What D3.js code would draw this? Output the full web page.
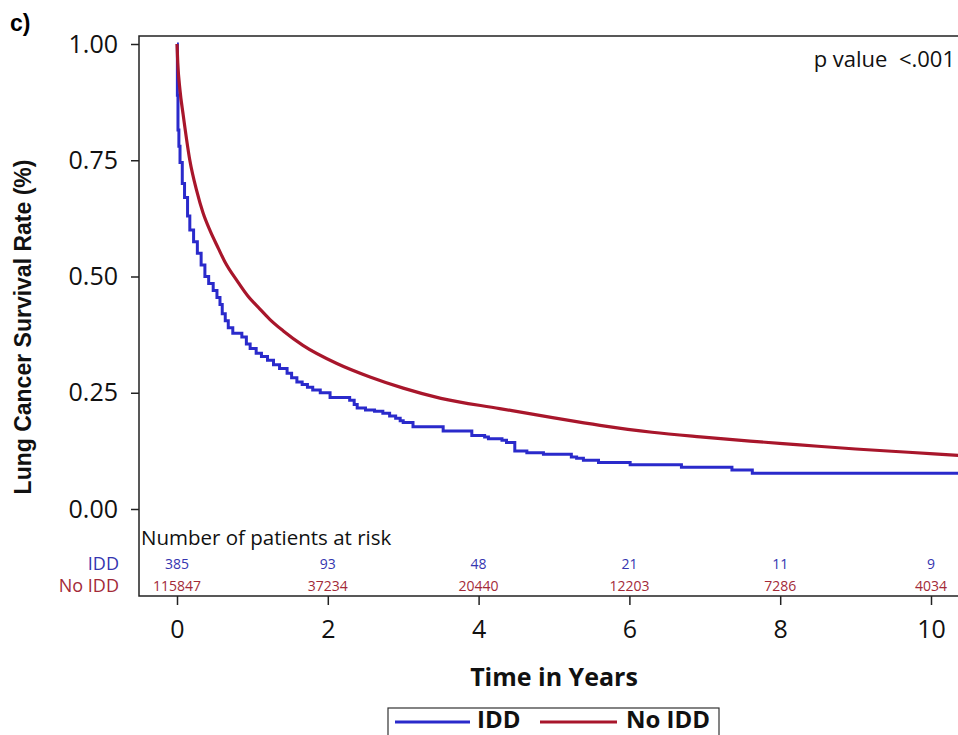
<!DOCTYPE html>
<html>
<head>
<meta charset="utf-8">
<script src="https://cdn.jsdelivr.net/npm/d3@7"></script>
<style>
  body { margin: 0; background: #fff; }
  svg { display: block; }
</style>
</head>
<body>
<div id="km-chart"></div>
<script>
// survival curve data (years, survival proportion)
var iddTime = [0, 0.005, 0.013, 0.025, 0.04, 0.07, 0.1, 0.14, 0.17, 0.22, 0.27, 0.32, 0.37, 0.42, 0.48, 0.53, 0.57, 0.6, 0.64, 0.68, 0.74,
  0.86, 0.92, 0.97, 1.05, 1.12, 1.2, 1.28, 1.36, 1.46, 1.52, 1.59, 1.66, 1.73, 1.8, 1.9, 2.03, 2.29, 2.35, 2.39, 2.5,
  2.62, 2.73, 2.82, 2.9, 2.96, 3.0, 3.13, 3.53, 3.91, 4.08, 4.13, 4.31, 4.37, 4.48, 4.64, 4.86, 5.23, 5.3, 5.39, 5.59,
  6.01, 6.69, 7.36, 7.63, 10.4];
var iddSurv = [1.0, 0.89, 0.815, 0.78, 0.745, 0.7, 0.67, 0.63, 0.6, 0.575, 0.55, 0.525, 0.5, 0.485, 0.47, 0.455, 0.44, 0.42, 0.405, 0.39, 0.378,
  0.37, 0.355, 0.345, 0.335, 0.328, 0.32, 0.31, 0.302, 0.292, 0.282, 0.273, 0.268, 0.262, 0.256, 0.25, 0.24, 0.234, 0.225, 0.217, 0.213,
  0.21, 0.206, 0.2, 0.195, 0.19, 0.186, 0.177, 0.168, 0.158, 0.155, 0.151, 0.148, 0.143, 0.125, 0.121, 0.118, 0.112, 0.109, 0.105, 0.1,
  0.095, 0.09, 0.084, 0.077, 0.077];

var noIddTime = [0, 0.01, 0.04, 0.08, 0.17, 0.26, 0.345, 0.44, 0.55, 0.64, 0.8, 0.94, 1.1, 1.23, 1.41, 1.67, 2.12, 2.56, 3.0, 3.5,
  4.28, 5.0, 5.61, 6.3, 6.94, 7.6, 8.26, 9.0, 9.7, 10.4];
var noIddSurv = [1.0, 0.96, 0.9, 0.85, 0.75, 0.685, 0.637, 0.598, 0.56, 0.53, 0.49, 0.458, 0.43, 0.408, 0.383, 0.352, 0.313, 0.284, 0.26, 0.238,
  0.216, 0.196, 0.18, 0.165, 0.155, 0.146, 0.138, 0.129, 0.122, 0.115];

// number at risk table
var riskTimes = [0, 2, 4, 6, 8, 10];
var riskIdd = [385, 93, 48, 21, 11, 9];
var riskNoIdd = [115847, 37234, 20440, 12203, 7286, 4034];

var xTicks = [0, 2, 4, 6, 8, 10];
var yTicks = [0, 0.25, 0.5, 0.75, 1.0];

var blue = "#2a2acb",
    red = "#a8162b";

var width = 958,
    height = 735;
var frame = { left: 139, top: 36, bottom: 596 };

var x = d3.scaleLinear().domain([0, 10]).range([177, 931]);
var y = d3.scaleLinear().domain([0, 1]).range([509, 44]);

var svg = d3.select("#km-chart")
  .append("svg")
    .attr("width", width)
    .attr("height", height)
    .style("font-family", "'Open Sans', 'Noto Sans', sans-serif");

drawFrame();
drawAxes();
drawCurves();
drawRiskTable();
drawLabels();
drawLegend();

//外框
function drawFrame() {
  svg.append("path")
    .attr("d", "M" + (width + 20) + "," + frame.top + "H" + frame.left + "V" + frame.bottom + "H" + (width + 20))
    .attr("fill", "none")
    .attr("stroke", "#222")
    .attr("stroke-width", 1.5);
}

function drawAxes() {
  var yAxis = d3.axisLeft(y)
    .tickValues(yTicks)
    .tickFormat(d3.format(".2f"))
    .tickSize(8)
    .tickPadding(13);
  var gy = svg.append("g")
    .attr("transform", "translate(" + frame.left + ",0)")
    .call(yAxis);
  gy.select(".domain").remove();
  gy.selectAll("line").attr("stroke", "#222").attr("stroke-width", 1.5);
  gy.selectAll("text")
    .attr("font-family", "'Open Sans', sans-serif")
    .attr("font-size", 25)
    .attr("fill", "#111");

  var xAxis = d3.axisBottom(x)
    .tickValues(xTicks)
    .tickFormat(d3.format("d"))
    .tickSize(9)
    .tickPadding(15);
  var gx = svg.append("g")
    .attr("transform", "translate(0," + frame.bottom + ")")
    .call(xAxis);
  gx.select(".domain").remove();
  gx.selectAll("line").attr("stroke", "#222").attr("stroke-width", 1.5);
  gx.selectAll("text")
    .attr("font-family", "'Open Sans', sans-serif")
    .attr("font-size", 25)
    .attr("fill", "#111");
}

//生存曲线
function drawCurves() {
  svg.append("clipPath").attr("id", "plot-clip")
    .append("rect")
      .attr("x", frame.left)
      .attr("y", frame.top)
      .attr("width", width - frame.left)
      .attr("height", frame.bottom - frame.top);

  var redLine = d3.line()
    .x(function(d) { return x(d[0]); })
    .y(function(d) { return y(d[1]); })
    .curve(d3.curveMonotoneX);
  var blueLine = d3.line()
    .x(function(d) { return x(d[0]); })
    .y(function(d) { return y(d[1]); })
    .curve(d3.curveStepAfter);

  var g = svg.append("g").attr("clip-path", "url(#plot-clip)");

  g.append("path")
    .datum(d3.zip(iddTime, iddSurv))
    .attr("d", blueLine)
    .attr("fill", "none")
    .attr("stroke", blue)
    .attr("stroke-width", 3);

  g.append("path")
    .datum(d3.zip(noIddTime, noIddSurv))
    .attr("d", redLine)
    .attr("fill", "none")
    .attr("stroke", red)
    .attr("stroke-width", 3.2);
}

function drawRiskTable() {
  svg.append("text")
    .attr("x", 141)
    .attr("y", 545)
    .attr("font-size", 20.5)
    .attr("fill", "#111")
    .text("Number of patients at risk");

  var rows = [
    { name: "IDD", values: riskIdd, color: "#3535b0", y: 569 },
    { name: "No IDD", values: riskNoIdd, color: "#a32a38", y: 591 }
  ];

  rows.forEach(function(row) {
    svg.append("text")
      .attr("x", 119)
      .attr("y", row.y + 1)
      .attr("text-anchor", "end")
      .attr("font-size", 18)
      .attr("fill", row.color)
      .text(row.name);

    svg.selectAll(null)
      .data(riskTimes)
      .enter()
        .append("text")
        .attr("x", function(d) { return x(d); })
        .attr("y", row.y)
        .attr("text-anchor", "middle")
        .attr("font-size", 14)
        .attr("fill", row.color)
        .text(function(d, i) { return row.values[i]; });
  });
}

function drawLabels() {
  svg.append("text")
    .attr("x", 10)
    .attr("y", 31)
    .attr("font-family", "'Liberation Sans', Arial, sans-serif")
    .attr("font-weight", "bold")
    .attr("font-size", 23)
    .text("c)");

  svg.append("text")
    .attr("transform", "translate(31,327) rotate(-90)")
    .attr("text-anchor", "middle")
    .attr("font-family", "'Liberation Sans', Arial, sans-serif")
    .attr("font-weight", "bold")
    .attr("font-size", 23)
    .attr("fill", "#111")
    .text("Lung Cancer Survival Rate (%)");

  svg.append("text")
    .attr("x", 554)
    .attr("y", 686)
    .attr("text-anchor", "middle")
    .attr("font-weight", "bold")
    .attr("font-size", 25)
    .attr("fill", "#111")
    .text("Time in Years");

  svg.append("text")
    .attr("x", 955)
    .attr("y", 67)
    .attr("text-anchor", "end")
    .attr("font-size", 22)
    .attr("fill", "#111")
    .attr("xml:space", "preserve")
    .style("white-space", "pre")
    .text("p value  <.001");
}

//图例
function drawLegend() {
  var g = svg.append("g");
  g.append("rect")
    .attr("x", 388)
    .attr("y", 708)
    .attr("width", 331)
    .attr("height", 60)
    .attr("fill", "#fff")
    .attr("stroke", "#333")
    .attr("stroke-width", 1.2);

  var items = [
    { name: "IDD", color: blue, x1: 395, x2: 470, tx: 477 },
    { name: "No IDD", color: red, x1: 540, x2: 617, tx: 626 }
  ];
  items.forEach(function(it) {
    g.append("line")
      .attr("x1", it.x1).attr("x2", it.x2)
      .attr("y1", 722).attr("y2", 722)
      .attr("stroke", it.color)
      .attr("stroke-width", 3);
    g.append("text")
      .attr("x", it.tx)
      .attr("y", 728)
      .attr("font-weight", "bold")
      .attr("font-size", 24)
      .attr("fill", "#111")
      .text(it.name);
  });
}
</script>
</body>
</html>
